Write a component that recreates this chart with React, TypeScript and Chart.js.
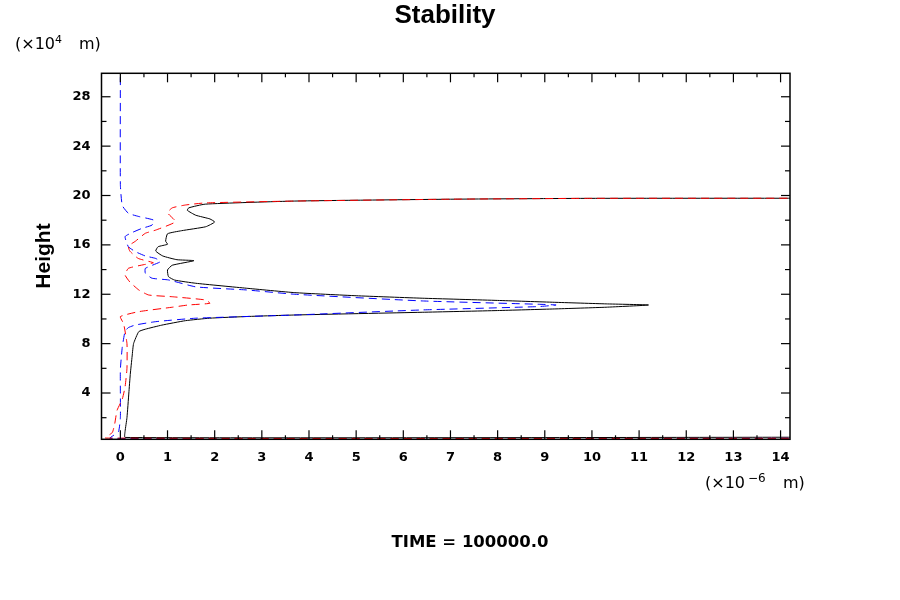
import { useEffect, useRef } from 'react'
import { Chart, registerables } from 'chart.js'

Chart.register(...registerables)

// heights in 10^4 m, values in 10^-6 m
const blackHeight = [0.42, 0.4, 0.9, 2.0, 4.0, 5.5, 7.0, 8.0, 8.97, 9.17, 9.5, 9.86, 10.06, 10.2, 10.32, 10.54, 10.68, 10.81, 10.95, 11.13, 11.22, 11.35, 11.5, 11.68, 11.88, 12.13, 12.49, 12.89, 13.15, 13.43, 13.97, 14.35, 14.72, 14.8, 15.1, 15.5, 15.85, 16.05, 16.3, 16.9, 17.15, 17.47, 17.85, 18.1, 18.4, 18.8, 19.0, 19.3, 19.55, 19.7, 19.77, 19.78]
const blackValue = [15, 0.1, 0.1, 0.14, 0.18, 0.21, 0.25, 0.28, 0.39, 0.53, 0.88, 1.38, 1.89, 2.7, 3.7, 6.4, 8.0, 9.2, 10.3, 11.2, 10.3, 9.2, 8.0, 6.4, 5.0, 3.7, 2.67, 1.6, 1.15, 1.02, 1.0, 1.1, 1.56, 1.2, 0.9, 0.75, 0.8, 1.0, 0.96, 1.0, 1.3, 1.81, 2.0, 1.9, 1.6, 1.42, 1.45, 1.8, 3.7, 7.0, 10.0, 15]

const redHeight = [0.33, 0.35, 0.8, 1.5, 2.6, 3.5, 4.5, 6.0, 8.0, 9.6, 10.19, 10.59, 10.95, 11.13, 11.27, 11.54, 11.8, 11.94, 12.35, 13.0, 13.56, 14.1, 14.4, 14.55, 14.9, 15.5, 15.9, 16.3, 16.94, 17.2, 17.88, 18.6, 19.0, 19.23, 19.4, 19.55, 19.7, 19.77, 19.78]
const redValue = [15, -0.32, -0.17, -0.12, -0.07, 0.04, 0.1, 0.14, 0.14, 0.07, 0, 0.39, 1.1, 1.44, 1.9, 1.8, 1.1, 0.6, 0.39, 0.2, 0.1, 0.17, 0.5, 0.7, 0.38, 0.2, 0.17, 0.32, 0.53, 0.75, 1.17, 1.0, 1.1, 1.38, 1.8, 3.7, 7.0, 10.0, 15]

const blueHeight = [0.33, 0.33, 0.87, 2.0, 4.0, 5.9, 7.7, 9.0, 9.3, 9.51, 9.78, 10.06, 10.32, 10.73, 11.0, 11.13, 11.19, 11.46, 12.0, 12.35, 12.6, 13.16, 13.3, 13.7, 14.1, 14.64, 14.9, 15.1, 15.45, 15.85, 16.67, 17.0, 17.34, 17.6, 18.0, 18.3, 18.56, 19.2, 20.9, 30]
const blueValue = [15, -0.22, -0.04, 0, 0, 0, 0.04, 0.1, 0.17, 0.32, 0.75, 1.6, 3.7, 6.4, 8.86, 9.24, 8.86, 6.4, 3.7, 2.67, 1.6, 1.02, 0.67, 0.53, 0.53, 0.85, 0.75, 0.53, 0.32, 0.17, 0.1, 0.25, 0.46, 0.67, 0.71, 0.39, 0.17, 0.04, 0, 0]

const xRange = [-0.4, 14.2]
const yRange = [0.25, 29.9]
const xStep = 0.5
const yStep = 2

const toPoints = (heights: number[], values: number[]) =>
  heights.map((h, i) => ({ x: values[i], y: h }))

const isMultiple = (v: number, m: number) => Math.abs(v / m - Math.round(v / m)) < 1e-6

const framePlugin = {
  id: 'frame',
  afterDraw(chart: any) {
    const { ctx, chartArea, scales } = chart
    const { left, right, top, bottom } = chartArea
    const line = (x1: number, y1: number, x2: number, y2: number) => {
      ctx.beginPath()
      ctx.moveTo(x1, y1)
      ctx.lineTo(x2, y2)
      ctx.stroke()
    }
    ctx.save()
    ctx.strokeStyle = '#000'
    ctx.lineWidth = 1.5
    ctx.strokeRect(left, top, right - left, bottom - top)

    // inward tick marks on all four sides
    ctx.lineWidth = 1.2
    scales.x.ticks.forEach((t: any) => {
      const p = scales.x.getPixelForValue(t.value)
      const len = isMultiple(t.value, 1) ? 9 : 4
      line(p, bottom, p, bottom - len)
      line(p, top, p, top + len)
    })
    scales.y.ticks.forEach((t: any) => {
      const p = scales.y.getPixelForValue(t.value)
      const len = isMultiple(t.value, 4) ? 9 : 5
      line(left, p, left + len, p)
      line(right, p, right - len, p)
    })

    ctx.fillStyle = '#000'
    ctx.textBaseline = 'alphabetic'

    ctx.textAlign = 'center'
    ctx.font = 'bold 26px "Liberation Sans"'
    ctx.fillText('Stability', 445, 23)

    ctx.font = 'bold 16.5px "DejaVu Sans"'
    ctx.fillText('TIME = 100000.0', 470, 547)

    ctx.textAlign = 'left'
    ctx.font = '16px "DejaVu Sans"'
    ctx.fillText('(×10', 15, 49)
    ctx.fillText('m)', 79, 49)
    ctx.fillText('(×10', 705, 488)
    ctx.fillText('m)', 783, 488)
    ctx.font = '11px "DejaVu Sans"'
    ctx.fillText('4', 55, 43)
    ctx.font = '12px "DejaVu Sans"'
    ctx.fillText('−6', 748, 482)

    ctx.save()
    ctx.translate(50, 256)
    ctx.rotate(-Math.PI / 2)
    ctx.textAlign = 'center'
    ctx.font = 'bold 21px "Liberation Sans"'
    ctx.fillText('Height', 0, 0)
    ctx.restore()

    ctx.restore()
  },
}

export default function App() {
  const chartRef = useRef<HTMLCanvasElement>(null)
  const chartInstance = useRef<Chart | null>(null)

  useEffect(() => {
    if (!chartRef.current) return
    if (chartInstance.current) chartInstance.current.destroy()

    const tickFont = { family: '"DejaVu Sans"', size: 13, weight: 'bold' as const }

    chartInstance.current = new Chart(chartRef.current, {
      type: 'scatter',
      data: {
        datasets: [
          {
            label: 'red',
            data: toPoints(redHeight, redValue),
            showLine: true,
            borderColor: '#ff0000',
            borderWidth: 1,
            borderDash: [8, 5],
            pointRadius: 0,
            tension: 0.15,
            order: 0,
          },
          {
            label: 'blue',
            data: toPoints(blueHeight, blueValue),
            showLine: true,
            borderColor: '#0000ff',
            borderWidth: 1,
            borderDash: [8, 5],
            pointRadius: 0,
            tension: 0.15,
            order: 1,
          },
          {
            label: 'black',
            data: toPoints(blackHeight, blackValue),
            showLine: true,
            borderColor: '#000000',
            borderWidth: 1,
            pointRadius: 0,
            tension: 0.15,
            order: 2,
          },
        ],
      },
      options: {
        responsive: false,
        animation: false,
        layout: { padding: { top: 73.3, right: 110, left: 0, bottom: 0 } },
        plugins: {
          legend: { display: false },
          tooltip: { enabled: false },
          title: { display: false },
        },
        scales: {
          x: {
            type: 'linear',
            min: xRange[0],
            max: xRange[1],
            grid: { display: false, drawTicks: false },
            border: { display: false },
            afterFit: (scale: any) => { scale.height = 160.7 },
            ticks: {
              stepSize: xStep,
              includeBounds: false,
              autoSkip: false,
              maxRotation: 0,
              padding: 11,
              color: '#000',
              font: tickFont,
              callback: (v: any) => (isMultiple(Number(v), 1) ? String(Math.round(Number(v))) : ''),
            },
          },
          y: {
            type: 'linear',
            min: yRange[0],
            max: yRange[1],
            grid: { display: false, drawTicks: false },
            border: { display: false },
            afterFit: (scale: any) => { scale.width = 101.5 },
            ticks: {
              stepSize: yStep,
              includeBounds: false,
              autoSkip: false,
              padding: 11,
              color: '#000',
              font: tickFont,
              callback: (v: any) => (isMultiple(Number(v), 4) ? String(Math.round(Number(v))) : ''),
            },
          },
        },
      },
      plugins: [framePlugin],
    })

    return () => {
      if (chartInstance.current) {
        chartInstance.current.destroy()
        chartInstance.current = null
      }
    }
  }, [])

  return (
    <div style={{ position: 'absolute', left: 0, top: 0, width: 900, height: 600, background: '#fff' }}>
      <canvas ref={chartRef} width={900} height={600} style={{ display: 'block' }}></canvas>
    </div>
  )
}
